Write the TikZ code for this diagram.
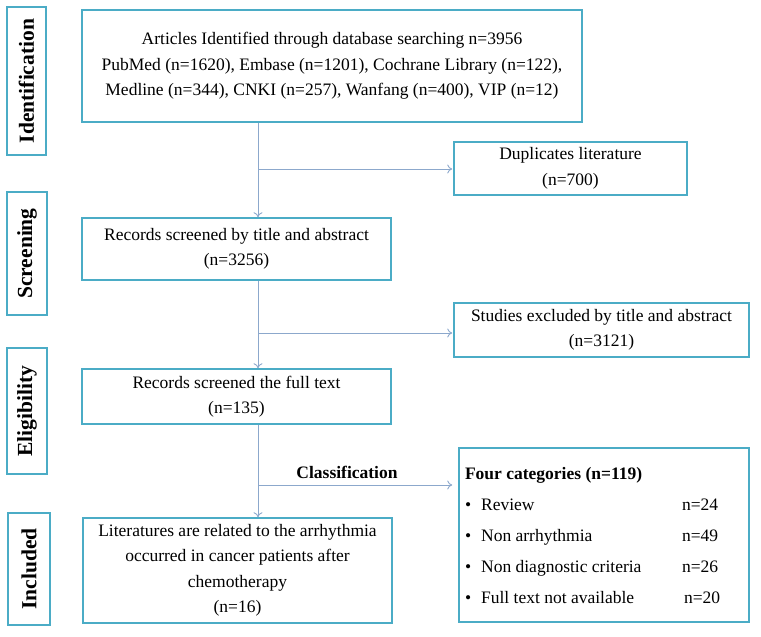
\documentclass[tikz,border=0pt]{standalone}
\usepackage{fontspec}
\setmainfont{Liberation Serif}
\usetikzlibrary{positioning,arrows.meta}
\definecolor{boxline}{RGB}{75,172,198}
\definecolor{flowline}{RGB}{140,168,204}

\begin{document}
\begin{tikzpicture}[x=1pt, y=-1pt]
    % Define styles
    \tikzstyle{box}=[rectangle, draw=boxline, line width=1.6pt, align=center, inner sep=0pt, font=\fontsize{17.5}{25.5}\selectfont]
    \tikzstyle{sidebox}=[rectangle, draw=boxline, line width=1.6pt, rotate=90, inner sep=0pt, font=\fontsize{21.5}{24}\selectfont\bfseries]
    \tikzstyle{arrow}=[->, line width=0.9pt, draw=flowline, >={To[length=5pt,width=9pt]}]

    \useasboundingbox (0,0) rectangle (761,637);

    % Stage labels
    \node[sidebox, minimum width=148pt, minimum height=39pt] (ident) at (26.5,81) {Identification};
    \node[sidebox, minimum width=123pt, minimum height=40pt] (screen) at (27,253.5) {Screening};
    \node[sidebox, minimum width=126pt, minimum height=40pt] (elig) at (27,411) {Eligibility};
    \node[sidebox, minimum width=112pt, minimum height=42pt] (incl) at (29,569) {Included};

    % Main flow
    \node[box, minimum width=500pt, minimum height=112pt] (articles) at (332,66)
        {Articles Identified through database searching n=3956\\
         PubMed (n=1620), Embase (n=1201), Cochrane Library (n=122),\\
         Medline (n=344), CNKI (n=257), Wanfang (n=400), VIP (n=12)};
    \node[box, minimum width=309pt, minimum height=62pt] (title) at (236.5,249)
        {Records screened by title and abstract\\(n=3256)};
    \node[box, minimum width=309pt, minimum height=55pt] (full) at (236.5,396.5)
        {Records screened the full text\\(n=135)};
    \node[box, minimum width=309pt, minimum height=105pt] (lit) at (237.5,570.5)
        {Literatures are related to the arrhythmia\\occurred in cancer patients after\\chemotherapy\\(n=16)};

    % Side boxes
    \node[box, minimum width=233pt, minimum height=53pt] (dup) at (570.5,168.5)
        {Duplicates literature\\(n=700)};
    \node[box, minimum width=295pt, minimum height=54pt] (excl) at (601.5,330)
        {Studies excluded by title and abstract\\(n=3121)};
    \node[box, minimum width=290pt, minimum height=174pt] (four) at (604,535)
        {\renewcommand{\arraystretch}{1.22}%
         \begin{tabular}{@{}p{217pt}@{}p{61pt}@{}}
         \multicolumn{2}{@{}l}{\bfseries Four categories (n=119)}\\
         \textbullet\hspace{10pt}Review & n=24\\
         \textbullet\hspace{10pt}Non arrhythmia & n=49\\
         \textbullet\hspace{10pt}Non diagnostic criteria & n=26\\
         \textbullet\hspace{10pt}Full text not available & \hspace{2pt}n=20
         \end{tabular}};

    \node[font=\fontsize{17.5}{20}\selectfont\bfseries] (classlbl) at (347,472) {Classification};

    % Branch points
    \coordinate (spine) at (258,0);
    \coordinate (b1) at (258,169);
    \coordinate (b2) at (258,333);
    \coordinate (b3) at (258,485);

    % Connections
    \draw[arrow] (articles.south -| spine) -- (title.north -| spine);
    \draw[arrow] (title.south -| spine) -- (full.north -| spine);
    \draw[arrow] (full.south -| spine) -- (lit.north -| spine);
    \draw[arrow] (b1) -- ([xshift=-1pt]b1 -| dup.west);
    \draw[arrow] (b2) -- ([xshift=-1pt]b2 -| excl.west);
    \draw[arrow] (b3) -- ([xshift=-6pt]b3 -| four.west);
\end{tikzpicture}
\end{document}
